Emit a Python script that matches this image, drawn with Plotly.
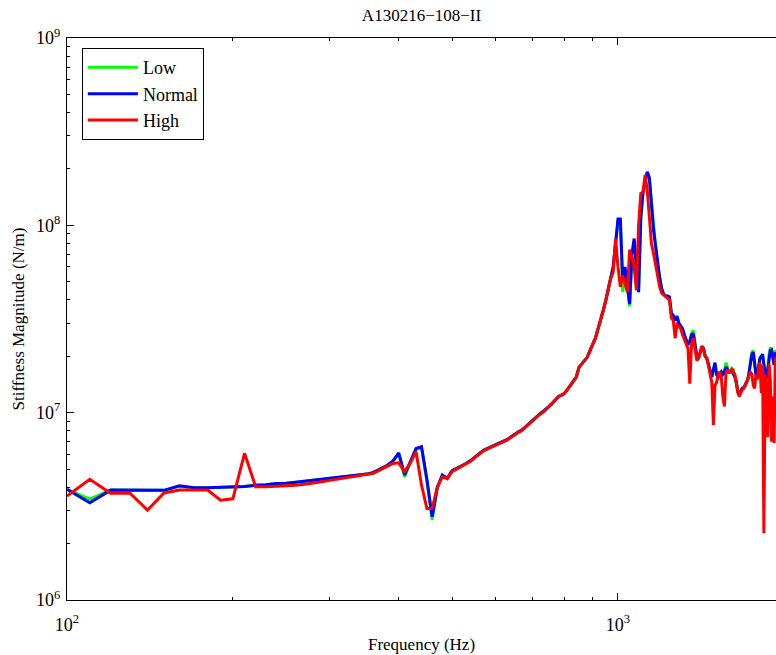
import plotly.graph_objects as go

freq = list(range(100, 2001, 10))

normal = [
    3.9e6, 3.3e6, 3.86e6, 3.86e6, 3.85e6, 3.85e6, 4.07e6, 3.97e6, 3.97e6, 3.98e6,
    4.02e6, 4.03e6, 4.1e6, 4.12e6, 4.19e6, 4.2e6, 4.25e6, 4.3e6, 4.35e6, 4.4e6,
    4.45e6, 4.5e6, 4.55e6, 4.6e6, 4.65e6, 4.7e6, 4.8e6, 5.0e6, 5.2e6, 5.5e6,
    6.1e6, 4.65e6, 5.47e6, 6.44e6, 6.58e6, 4.4e6, 2.78e6, 4.0e6, 4.65e6, 4.46e6,
    4.9e6, 5.05e6, 5.15e6, 5.35e6, 5.55e6, 5.8e6, 6.1e6, 6.3e6, 6.45e6, 6.6e6,
    6.75e6, 6.9e6, 7.05e6, 7.2e6, 7.45e6, 7.7e6, 7.9e6, 8.1e6, 8.45e6, 8.8e6,
    9.1e6, 9.45e6, 9.8e6, 1.01e7, 1.04e7, 1.08e7, 1.12e7, 1.17e7, 1.22e7, 1.24e7,
    1.27e7, 1.33e7, 1.4e7, 1.46e7, 1.55e7, 1.75e7, 1.82e7, 1.9e7, 1.98e7, 2.15e7,
    2.3e7, 2.5e7, 2.8e7, 3.1e7, 3.5e7, 3.95e7, 4.6e7, 5.3e7, 6.0e7, 8.0e7,
    1.08e8, 1.08e8, 5.0e7, 6.0e7, 4.8e7, 3.8e7, 7.0e7, 8.5e7, 6.0e7, 4.4e7,
    1.1e8, 1.5e8, 1.7e8, 1.93e8, 1.8e8, 1.3e8, 9.5e7, 7.8e7, 6.2e7, 5.3e7,
    4.6e7, 4.3e7, 4.2e7, 4.2e7, 4.15e7, 3.4e7, 3.3e7, 3.1e7, 3.25e7, 3.0e7,
    2.9e7, 2.8e7, 2.6e7, 2.45e7, 2.3e7, 2.4e7, 2.6e7, 2.65e7, 2.3e7, 2.0e7,
    1.95e7, 2.1e7, 2.25e7, 2.2e7, 2.0e7, 1.95e7, 1.8e7, 1.65e7, 1.55e7, 1.7e7,
    1.85e7, 1.6e7, 1.55e7, 1.6e7, 1.65e7, 1.6e7, 1.65e7, 1.75e7, 1.7e7, 1.65e7,
    1.65e7, 1.7e7, 1.6e7, 1.55e7, 1.45e7, 1.3e7, 1.25e7, 1.3e7, 1.35e7, 1.35e7,
    1.4e7, 1.45e7, 1.5e7, 1.65e7, 1.85e7, 2.05e7, 2.1e7, 1.8e7, 1.6e7, 1.6e7,
    1.8e7, 1.95e7, 2.0e7, 2.05e7, 1.8e7, 1.6e7, 1.5e7, 1.7e7, 2.0e7, 2.15e7,
    2.16e7, 2.0e7, 1.8e7, 2.1e7, 2.0e7, 1.9e7, 1.85e7, 1.9e7, 1.95e7, 1.9e7,
    1.85e7,
]

low = [
    3.9e6, 3.46e6, 3.86e6, 3.86e6, 3.85e6, 3.85e6, 4.05e6, 3.97e6, 3.97e6, 3.98e6,
    4.02e6, 4.03e6, 4.1e6, 4.12e6, 4.19e6, 4.2e6, 4.25e6, 4.3e6, 4.35e6, 4.4e6,
    4.45e6, 4.5e6, 4.55e6, 4.6e6, 4.65e6, 4.7e6, 4.8e6, 5.0e6, 5.2e6, 5.5e6,
    6.0e6, 4.55e6, 5.4e6, 6.4e6, 6.5e6, 4.3e6, 2.68e6, 3.95e6, 4.65e6, 4.46e6,
    4.9e6, 5.05e6, 5.15e6, 5.35e6, 5.55e6, 5.8e6, 6.1e6, 6.3e6, 6.45e6, 6.6e6,
    6.75e6, 6.9e6, 7.05e6, 7.2e6, 7.45e6, 7.7e6, 7.9e6, 8.1e6, 8.45e6, 8.8e6,
    9.1e6, 9.45e6, 9.8e6, 1.01e7, 1.04e7, 1.08e7, 1.12e7, 1.17e7, 1.22e7, 1.24e7,
    1.27e7, 1.33e7, 1.4e7, 1.46e7, 1.55e7, 1.75e7, 1.82e7, 1.9e7, 1.98e7, 2.15e7,
    2.3e7, 2.5e7, 2.8e7, 3.1e7, 3.5e7, 3.95e7, 4.6e7, 5.25e7, 5.9e7, 7.8e7,
    1.05e8, 1.05e8, 4.4e7, 5.8e7, 4.7e7, 3.7e7, 6.9e7, 8.3e7, 5.9e7, 4.4e7,
    1.08e8, 1.48e8, 1.68e8, 1.9e8, 1.78e8, 1.3e8, 9.5e7, 7.8e7, 6.2e7, 5.3e7,
    4.6e7, 4.3e7, 4.2e7, 4.2e7, 4.15e7, 3.4e7, 3.3e7, 3.15e7, 3.3e7, 3.0e7,
    2.9e7, 2.8e7, 2.6e7, 2.45e7, 2.3e7, 2.4e7, 2.65e7, 2.75e7, 2.3e7, 2.0e7,
    1.95e7, 2.1e7, 2.28e7, 2.2e7, 2.0e7, 1.95e7, 1.8e7, 1.65e7, 1.55e7, 1.7e7,
    1.8e7, 1.6e7, 1.55e7, 1.6e7, 1.65e7, 1.6e7, 1.65e7, 1.85e7, 1.75e7, 1.65e7,
    1.65e7, 1.72e7, 1.7e7, 1.55e7, 1.45e7, 1.3e7, 1.25e7, 1.3e7, 1.35e7, 1.35e7,
    1.4e7, 1.45e7, 1.5e7, 1.65e7, 1.85e7, 2.1e7, 2.15e7, 1.8e7, 1.6e7, 1.6e7,
    1.8e7, 1.95e7, 2.0e7, 2.05e7, 1.8e7, 1.6e7, 1.5e7, 1.7e7, 2.05e7, 2.2e7,
    2.2e7, 2.0e7, 1.8e7, 2.15e7, 2.0e7, 1.9e7, 1.85e7, 1.9e7, 1.95e7, 1.9e7,
    1.85e7,
]

high = [
    3.59e6, 4.41e6, 3.71e6, 3.73e6, 3.02e6, 3.73e6, 3.86e6, 3.86e6, 3.86e6, 3.41e6,
    3.47e6, 6.07e6, 4.02e6, 4.02e6, 4.05e6, 4.05e6, 4.1e6, 4.15e6, 4.2e6, 4.28e6,
    4.35e6, 4.42e6, 4.5e6, 4.57e6, 4.63e6, 4.7e6, 4.75e6, 4.95e6, 5.15e6, 5.35e6,
    5.4e6, 4.84e6, 5.4e6, 6.2e6, 4.1e6, 3.08e6, 3.08e6, 4.0e6, 4.55e6, 4.46e6,
    4.84e6, 5.0e6, 5.12e6, 5.3e6, 5.5e6, 5.75e6, 6.0e6, 6.25e6, 6.4e6, 6.55e6,
    6.7e6, 6.85e6, 7.0e6, 7.15e6, 7.4e6, 7.65e6, 7.85e6, 8.05e6, 8.4e6, 8.75e6,
    9.05e6, 9.4e6, 9.75e6, 1.0e7, 1.04e7, 1.08e7, 1.12e7, 1.17e7, 1.22e7, 1.24e7,
    1.27e7, 1.33e7, 1.4e7, 1.46e7, 1.55e7, 1.75e7, 1.82e7, 1.9e7, 1.98e7, 2.15e7,
    2.3e7, 2.5e7, 2.8e7, 3.1e7, 3.5e7, 3.95e7, 4.6e7, 5.2e7, 5.6e7, 8.5e7,
    6.0e7, 4.7e7, 5.4e7, 4.8e7, 4.4e7, 7.4e7, 6.8e7, 6.0e7, 4.5e7, 1.0e8,
    1.48e8, 1.5e8, 1.86e8, 1.55e8, 1.1e8, 8.0e7, 7.1e7, 6.1e7, 5.3e7, 4.7e7,
    4.34e7, 4.25e7, 4.2e7, 4.1e7, 4.0e7, 3.2e7, 3.1e7, 2.5e7, 2.95e7, 2.9e7,
    2.8e7, 2.6e7, 2.45e7, 2.35e7, 2.2e7, 1.43e7, 2.3e7, 2.5e7, 2.2e7, 1.9e7,
    1.95e7, 2.1e7, 2.25e7, 2.15e7, 2.0e7, 1.95e7, 1.75e7, 1.6e7, 1.45e7, 8.6e6,
    1.4e7, 1.45e7, 1.6e7, 1.65e7, 1.55e7, 1.22e7, 1.08e7, 1.6e7, 1.7e7, 1.65e7,
    1.65e7, 1.7e7, 1.65e7, 1.6e7, 1.45e7, 1.28e7, 1.22e7, 1.28e7, 1.32e7, 1.35e7,
    1.38e7, 1.45e7, 1.5e7, 1.6e7, 1.65e7, 1.6e7, 1.4e7, 1.35e7, 1.6e7, 1.5e7,
    1.75e7, 1.85e7, 1.27e7, 1.8e7, 2.27e6, 1.6e7, 1.22e7, 7.4e6, 1.83e7, 1.5e7,
    7.0e6, 1.22e7, 6.9e6, 1.97e7, 1.5e7, 1.6e7, 1.3e7, 1.7e7, 1.5e7, 1.6e7,
    1.5e7,
]

x_major = [100, 1000]
x_major_text = ["10<sup>2</sup>", "10<sup>3</sup>"]
x_minor = [200, 300, 400, 500, 600, 700, 800, 900, 2000]
y_major = [1e6, 1e7, 1e8, 1e9]
y_major_text = ["10<sup>6</sup>", "10<sup>7</sup>", "10<sup>8</sup>", "10<sup>9</sup>"]
y_minor = [m * 10 ** e for e in (6, 7, 8) for m in range(2, 10)]

FONT = "Liberation Serif"

fig = go.Figure()
fig.add_trace(go.Scatter(x=freq, y=low, mode="lines", name="Low",
                         line=dict(color="#00ff00", width=3)))
fig.add_trace(go.Scatter(x=freq, y=normal, mode="lines", name="Normal",
                         line=dict(color="#0000ff", width=3)))
fig.add_trace(go.Scatter(x=freq, y=high, mode="lines", name="High",
                         line=dict(color="#ff0000", width=3)))

fig.update_layout(
    width=776, height=655,
    margin=dict(l=67, r=0, t=38, b=55),
    paper_bgcolor="white", plot_bgcolor="white",
    font=dict(family=FONT, size=18, color="black"),
    title=dict(text="A130216\u2212108\u2212II", x=0.5, xref="paper", xanchor="center",
               y=1 - 15 / 655, yanchor="middle", font=dict(family=FONT, size=17)),
    showlegend=True,
    legend=dict(x=0.021, y=0.982, xanchor="left", yanchor="top",
                bgcolor="white", bordercolor="black", borderwidth=1,
                font=dict(family=FONT, size=18), tracegroupgap=0,
                itemwidth=50),
    xaxis=dict(
        type="log", range=[2, 3.2868], showgrid=False, zeroline=False,
        showline=True, linecolor="black", linewidth=1, mirror="ticks",
        ticks="inside", ticklen=7, tickcolor="black",
        tickvals=x_major, ticktext=x_major_text,
        tickfont=dict(family=FONT, size=18), ticklabelstandoff=8,
        minor=dict(tickvals=x_minor, ticks="inside", ticklen=3, tickcolor="black"),
        title=dict(text="Frequency (Hz)", font=dict(family=FONT, size=17), standoff=4),
    ),
    yaxis=dict(
        type="log", range=[6, 9], showgrid=False, zeroline=False,
        showline=True, linecolor="black", linewidth=1, mirror=False,
        ticks="inside", ticklen=7, tickcolor="black",
        tickvals=y_major, ticktext=y_major_text,
        tickfont=dict(family=FONT, size=18), ticklabelstandoff=2,
        minor=dict(tickvals=y_minor, ticks="inside", ticklen=3, tickcolor="black"),
        title=dict(text="Stiffness Magnitude (N/m)", font=dict(family=FONT, size=17), standoff=7),
    ),
)

fig.write_html("out.html")
